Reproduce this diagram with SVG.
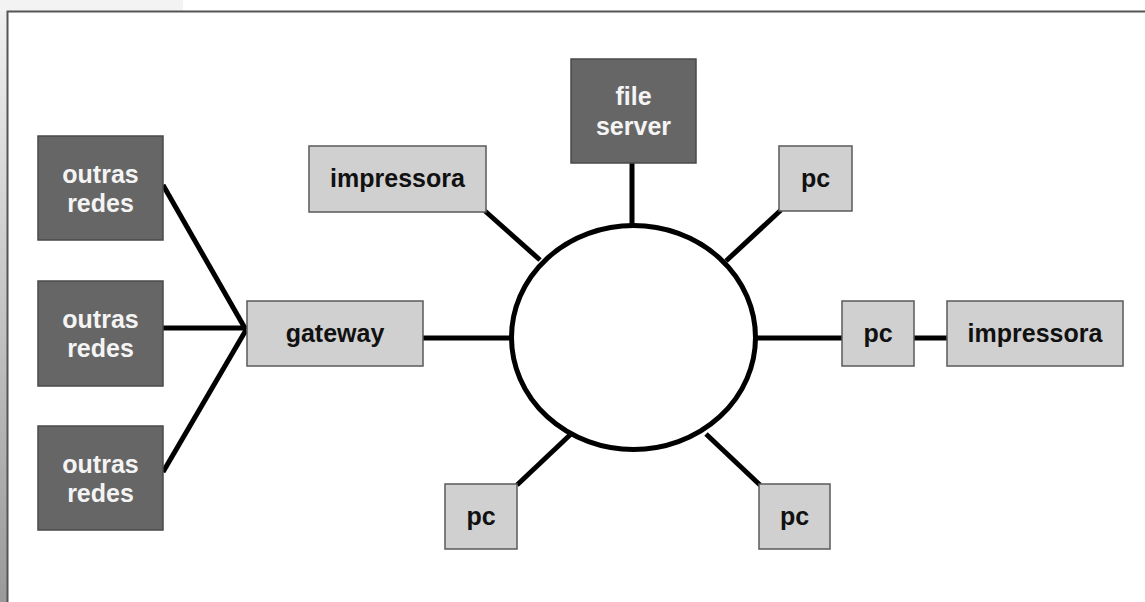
<svg xmlns="http://www.w3.org/2000/svg" width="1145" height="602" viewBox="0 0 1145 602">
  <defs>
    <linearGradient id="edgeShade" x1="0" y1="0" x2="0" y2="1">
      <stop offset="0" stop-color="#f0f0f0"/>
      <stop offset="1" stop-color="#9a9a9a"/>
    </linearGradient>
    <style>
      .dark { fill: #666666; stroke: #4a4a4a; stroke-width: 1.5; }
      .light { fill: #d0d0d0; stroke: #5a5a5a; stroke-width: 1.5; }
      .lbl { font-family: "Liberation Sans", Arial, sans-serif; font-weight: bold; font-size: 25px; text-anchor: middle; }
      .lbl-dark { fill: #f4f4f4; }
      .lbl-light { fill: #111111; }
      .wire { stroke: #000000; stroke-width: 5; fill: none; }
    </style>
  </defs>

  <!-- page background and frame -->
  <rect x="0" y="0" width="1145" height="602" fill="#ffffff"/>
  <rect x="0" y="0" width="183" height="11" fill="#f3f3f3"/>
  <rect x="0" y="11" width="7" height="591" fill="url(#edgeShade)"/>
  <path d="M7.5 602 V11.5 H1145" fill="none" stroke="#555555" stroke-width="2"/>

  <!-- connectors -->
  <g id="connectors" class="wire">
    <line x1="163" y1="185" x2="246" y2="330"/>
    <line x1="163" y1="328" x2="246" y2="328"/>
    <line x1="163" y1="472" x2="246" y2="330"/>
    <line x1="423" y1="338" x2="512" y2="338"/>
    <line x1="632" y1="163" x2="632" y2="226"/>
    <line x1="485" y1="211" x2="540" y2="260"/>
    <line x1="781" y1="210" x2="726" y2="261"/>
    <line x1="755" y1="338" x2="842" y2="338"/>
    <line x1="914" y1="338" x2="947" y2="338"/>
    <line x1="517" y1="485" x2="571" y2="434"/>
    <line x1="760" y1="485" x2="706" y2="434"/>
    <ellipse cx="633.5" cy="337.5" rx="122" ry="112" fill="#ffffff"/>
  </g>

  <!-- nodes -->
  <g id="outras-redes-1">
    <rect class="dark" x="38" y="136" width="125" height="104"/>
    <text class="lbl lbl-dark" x="100.5" y="183">outras</text>
    <text class="lbl lbl-dark" x="100.5" y="212">redes</text>
  </g>
  <g id="outras-redes-2">
    <rect class="dark" x="38" y="281" width="125" height="105"/>
    <text class="lbl lbl-dark" x="100.5" y="328">outras</text>
    <text class="lbl lbl-dark" x="100.5" y="357">redes</text>
  </g>
  <g id="outras-redes-3">
    <rect class="dark" x="38" y="426" width="125" height="104"/>
    <text class="lbl lbl-dark" x="100.5" y="473">outras</text>
    <text class="lbl lbl-dark" x="100.5" y="502">redes</text>
  </g>
  <g id="gateway">
    <rect class="light" x="247" y="301" width="176" height="65"/>
    <text class="lbl lbl-light" x="335" y="342">gateway</text>
  </g>
  <g id="impressora-left">
    <rect class="light" x="309" y="146" width="177" height="66"/>
    <text class="lbl lbl-light" x="397.5" y="187">impressora</text>
  </g>
  <g id="file-server">
    <rect class="dark" x="571" y="59" width="125" height="104"/>
    <text class="lbl lbl-dark" x="633.5" y="105">file</text>
    <text class="lbl lbl-dark" x="633.5" y="135">server</text>
  </g>
  <g id="pc-top-right">
    <rect class="light" x="779" y="146" width="73" height="65"/>
    <text class="lbl lbl-light" x="815.5" y="187">pc</text>
  </g>
  <g id="pc-right">
    <rect class="light" x="842" y="301" width="72" height="65"/>
    <text class="lbl lbl-light" x="878" y="342">pc</text>
  </g>
  <g id="impressora-right">
    <rect class="light" x="947" y="301" width="176" height="65"/>
    <text class="lbl lbl-light" x="1035" y="342">impressora</text>
  </g>
  <g id="pc-bottom-left">
    <rect class="light" x="445" y="484" width="72" height="65"/>
    <text class="lbl lbl-light" x="481" y="525">pc</text>
  </g>
  <g id="pc-bottom-right">
    <rect class="light" x="759" y="484" width="71" height="65"/>
    <text class="lbl lbl-light" x="794.5" y="525">pc</text>
  </g>
</svg>
